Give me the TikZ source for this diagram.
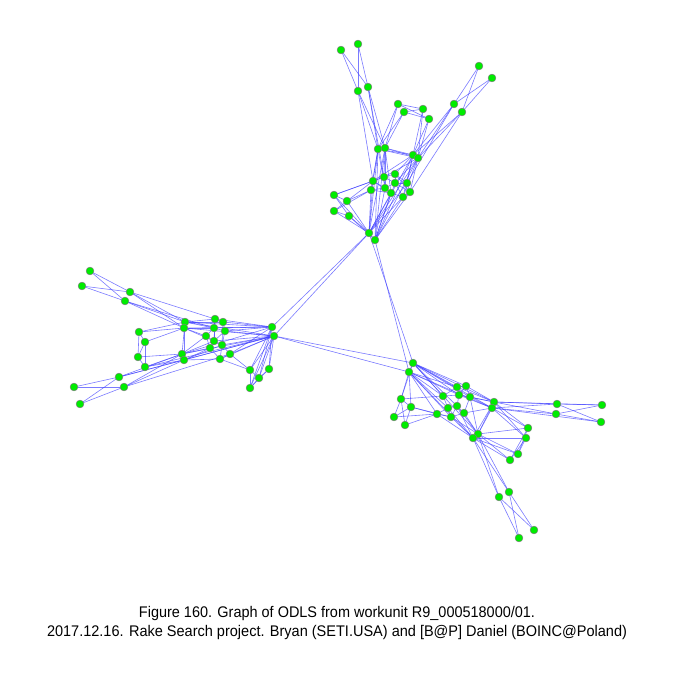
\documentclass[tikz,border=0pt]{standalone}
\usepackage{fontspec}
\setmainfont{Liberation Sans}
\usepackage{graphicx}
\pgfdeclarelayer{bg}
\pgfsetlayers{bg,main}
\definecolor{vgreen}{RGB}{0,236,0}
\definecolor{eblue}{RGB}{60,60,255}
\tikzset{
  v/.style={circle,fill=vgreen,draw=black!50,line width=0.25pt,inner sep=0pt,minimum size=3.9pt},
  e/.style={draw=eblue,line width=0.3pt,opacity=0.68},
  captxt/.style={inner sep=0pt,anchor=base,font=\fontsize{7.7pt}{9pt}\selectfont}
}
\begin{document}
\begin{tikzpicture}[x=0.5pt,y=-0.5pt]
\useasboundingbox (0,0) rectangle (675,675);
% top cluster
\foreach \n/\x/\y in {t1/341/50,t2/358/44,t3/358/91,t4/368/87,t5/479/66,t6/492/78,t7/454/104,t8/462/112,
 t9/398/104,t10/404/112,t11/423/109,t12/429/119,h1/378/149,h2/385/148,h3/413/155,h4/418/158,
 i1/373/181,i2/384/177,i3/395/174,i4/371/190,i5/385/188,i6/395/183,i7/407/183,i8/391/193,i9/403/197,i10/410/192,
 l1/334/195,l2/347/201,l3/334/211,l4/349/216,b1/369/233,b2/375/240}
 \node[v] (\n) at (\x,\y) {};
% left cluster
\foreach \n/\x/\y in {a1/90/271,a2/82/286,a3/130/292,a4/125/301,c1/185/322,c2/184/328,c3/182/354,c4/184/360,
 j1/215/319,j2/223/322,j3/214/328,j4/225/331,j5/206/336,j6/214/341,j7/222/345,j8/210/348,j9/230/354,j10/220/359,
 m1/139/332,m2/145/342,m3/138/357,m4/145/367,g1/272/327,g2/274/336,k1/250/370,k2/269/369,k3/259/378,k4/250/388,
 n1/119/377,n2/124/387,n3/74/387,n4/80/404}
 \node[v] (\n) at (\x,\y) {};
% right cluster
\foreach \n/\x/\y in {r1/413/363,r2/409/372,p1/401/399,p2/411/407,p3/394/417,p4/405/425,
 q1/457/387,q2/466/386,q3/443/396,q4/459/395,q5/470/397,q6/457/406,q7/448/408,q8/464/413,q9/437/414,q10/451/417,
 s1/494/402,s2/492/408,u1/478/434,u2/473/438,v1/528/428,v2/526/438,v3/518/454,v4/510/460,
 w1/557/404,w2/556/414,w3/602/405,w4/601/422,x1/509/492,x2/499/497,x3/534/530,x4/519/538}
 \node[v] (\n) at (\x,\y) {};
\begin{pgfonlayer}{bg}
% top edges
\foreach \a/\b in {t1/t3,t1/t4,t2/t3,t2/t4,t3/h1,t3/h2,t4/h1,t4/h2,t3/i1,t4/i2,
 t5/t7,t5/t8,t6/t7,t6/t8,t7/h3,t7/h4,t8/h3,t8/h4,t7/i7,t8/i10,
 t9/t11,t10/t11,t9/t12,t10/t12,t9/h1,t9/h2,t10/h1,t10/h2,t11/h3,t11/h4,t12/h3,t12/h4,
 h1/h3,h2/h3,h1/h4,h2/h4,
 i1/i2,i1/i4,i1/i5,i2/i3,i2/i5,i2/i6,i3/i6,i3/i7,i4/i5,i4/i8,i5/i6,i5/i8,i6/i7,i6/i9,i7/i10,i8/i9,i9/i10,i6/i10,i3/i10,i1/i8,
 h1/i1,h1/i4,h2/i2,h2/i5,h1/i5,h2/i8,h3/i3,h3/i7,h4/i6,h4/i10,h3/i9,h4/i9,h3/i1,h4/i2,
 h1/b1,h2/b1,h1/b2,h2/b2,h3/b1,h4/b2,h3/b2,h4/b1,
 b1/i4,b1/i8,b2/i8,b2/i9,b1/i9,b2/i10,b1/i7,b2/i6,b1/i1,b2/i5,
 l1/l2,l1/l4,l3/l2,l3/l4,l1/i1,l2/i1,l2/i4,l1/i2,l3/i4,l2/b1,l4/b1,l1/b1,l3/b1,l4/b2,b1/b2}
 \draw[e] (\a.center) -- (\b.center);
% left edges
\foreach \a/\b in {a1/a3,a1/a4,a2/a3,a2/a4,a3/c1,a3/c2,a4/c1,a4/c2,a3/j1,a4/j3,
 j1/j2,j1/j3,j2/j4,j3/j4,j3/j5,j3/j6,j4/j6,j4/j7,j5/j6,j5/j8,j6/j7,j6/j8,j7/j9,j7/j10,j8/j10,j9/j10,j1/j6,j2/j7,
 c1/j1,c1/j3,c2/j5,c2/j3,c1/j2,c3/j8,c4/j10,c3/j5,c4/j8,c3/j6,c2/j6,c4/j7,
 g1/j1,g1/j2,g1/j4,g2/j4,g2/j7,g2/j9,g1/c1,g2/c2,g1/c2,g2/c1,g1/c3,g2/c4,g2/c3,g1/j9,g2/j10,g1/j3,g2/j6,
 c1/c2,c1/c3,c2/c4,c3/c4,
 k1/k3,k1/k4,k2/k3,k2/k4,k3/k4,k1/g2,k2/g2,k3/g2,k4/g1,k4/g2,k1/j9,k2/g1,k1/j10,k3/g1,k1/g1,
 m1/m2,m1/m3,m2/m4,m3/m4,m1/c1,m1/c2,m3/c3,m4/c3,m4/c4,m2/c2,m2/m3,m4/g2,
 n3/n1,n3/n2,n4/n1,n4/n2,n1/c3,n1/c4,n2/c3,n2/c4,n1/g2,n2/j9}
 \draw[e] (\a.center) -- (\b.center);
% right edges
\foreach \a/\b in {q1/q2,q1/q4,q2/q5,q3/q4,q3/q7,q4/q5,q4/q6,q6/q7,q6/q8,q7/q10,q7/q9,q8/q10,q9/q10,q5/q8,q1/q3,q2/q4,q6/q10,
 r1/q1,r1/q2,r1/q3,r2/q3,r2/q4,r1/s1,r2/s2,r1/q5,r2/q7,r1/u1,r2/u2,r1/q6,r2/q9,r1/s2,r2/q10,r1/r2,r2/q1,r1/q4,
 s1/q2,s1/q5,s2/q5,s2/q8,s1/q1,s2/q4,s1/q4,
 u1/q8,u2/q10,u1/q6,u2/q7,u2/q9,u1/s2,u2/s1,u1/q10,u1/u2,u1/s1,u2/q6,u1/q5,
 r2/p1,r2/p2,r1/p1,p1/p3,p1/p4,p2/p3,p2/p4,p1/q3,p2/q9,p3/q9,p4/q9,p2/q10,p1/p2,
 s1/w1,s1/w2,s2/w1,s2/w2,w1/w3,w1/w4,w2/w3,w2/w4,s1/w3,s2/w4,
 s1/v1,s2/v1,s1/v2,s2/v2,v1/v3,v2/v3,v1/v4,v2/v4,u1/v3,u1/v4,u2/v3,u2/v4,u1/v1,u2/v2,
 u1/x1,u1/x2,u2/x1,u2/x2,x1/x3,x1/x4,x2/x3,x2/x4}
 \draw[e] (\a.center) -- (\b.center);
% long edges
\foreach \a/\b in {b1/g1,b1/g2,b1/r1,b2/r2,g2/r1,g2/r2}
 \draw[e] (\a.center) -- (\b.center);
\end{pgfonlayer}
\node[captxt] (c1t) at (337,617) {\resizebox{198pt}{\height}{Figure 160. Graph of ODLS from workunit R9\_000518000/01.}};
\node[captxt] (c2t) at (337,636) {\resizebox{290pt}{\height}{2017.12.16. Rake Search project. Bryan (SETI.USA) and [B@P] Daniel (BOINC@Poland)}};
\end{tikzpicture}
\end{document}
